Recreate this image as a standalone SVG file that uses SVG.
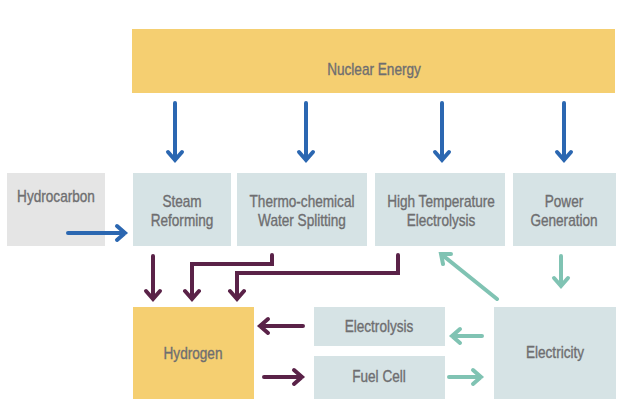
<svg xmlns="http://www.w3.org/2000/svg" width="637" height="410" viewBox="0 0 637 410">
<defs>
<style>
.lbl{font-family:"Liberation Sans",Arial,sans-serif;font-size:16px;fill:#6e6e70;stroke:#6e6e70;stroke-width:0.35;text-anchor:middle;dominant-baseline:central}
.gold{fill:#f5cf71}
.pale{fill:#d6e3e5}
.grey{fill:#e5e5e5}
.ln{fill:none;stroke-width:4;stroke-linecap:round;stroke-linejoin:miter}
.blue{stroke:#2b67b1}
.plum{stroke:#5a2248}
.teal{stroke:#80c3b3}
</style>
</defs>
<rect width="637" height="410" fill="#ffffff"/>
<g id="nuclear"><rect class="gold" x="132" y="29" width="483" height="64"/><text class="lbl" transform="translate(374 70) scale(0.85 1)">Nuclear Energy</text></g>
<g id="hydrocarbon"><rect class="grey" x="7" y="173" width="98" height="73"/><text class="lbl" transform="translate(56 197) scale(0.85 1)">Hydrocarbon</text></g>
<g id="steam"><rect class="pale" x="133" y="173" width="98" height="73"/><text class="lbl" transform="translate(182 202) scale(0.85 1)">Steam</text><text class="lbl" transform="translate(182 221) scale(0.85 1)">Reforming</text></g>
<g id="thermo"><rect class="pale" x="237" y="173" width="130" height="73"/><text class="lbl" transform="translate(302 202) scale(0.85 1)">Thermo-chemical</text><text class="lbl" transform="translate(302 221) scale(0.85 1)">Water Splitting</text></g>
<g id="hte"><rect class="pale" x="375" y="173" width="130" height="73"/><text class="lbl" transform="translate(441 202) scale(0.85 1)">High Temperature</text><text class="lbl" transform="translate(441 221) scale(0.85 1)">Electrolysis</text></g>
<g id="power"><rect class="pale" x="513" y="173" width="103" height="73"/><text class="lbl" transform="translate(564 202) scale(0.85 1)">Power</text><text class="lbl" transform="translate(564 221) scale(0.85 1)">Generation</text></g>
<g id="hydrogen"><rect class="gold" x="133" y="307" width="121" height="92"/><text class="lbl" transform="translate(193 354) scale(0.85 1)">Hydrogen</text></g>
<g id="electrolysis"><rect class="pale" x="314" y="307" width="131" height="39"/><text class="lbl" transform="translate(379 327) scale(0.85 1)">Electrolysis</text></g>
<g id="fuelcell"><rect class="pale" x="314" y="356" width="131" height="43"/><text class="lbl" transform="translate(379 377) scale(0.85 1)">Fuel Cell</text></g>
<g id="electricity"><rect class="pale" x="494" y="307" width="122" height="92"/><text class="lbl" transform="translate(555 353) scale(0.85 1)">Electricity</text></g>
<g id="connectors">
<g class="ln blue">
<path d="M175 103V160M168 152l7 8l7-8"/>
<path d="M306 103V160M299 152l7 8l7-8"/>
<path d="M442 103V160M435 152l7 8l7-8"/>
<path d="M564 103V160M557 152l7 8l7-8"/>
<path d="M68 233H125M117 226l8 7l-8 7"/>
</g>
<g class="ln plum">
<path d="M153 256V299M146 291l7 8l7-8"/>
<path d="M272 255V264H192V299M185 291l7 8l7-8"/>
<path d="M398 255V273H237V299M230 291l7 8l7-8"/>
<path d="M303 326H260M268 319l-8 7l8 7"/>
<path d="M264 377H302M294 370l8 7l-8 7"/>
</g>
<g class="ln teal">
<path d="M561 256V286M554 278l7 8l7-8"/>
<path d="M497 299L441 254M443 264l-2-10l10 0"/>
<path d="M482 336H452M460 329l-8 7l8 7"/>
<path d="M449 377H481M473 370l8 7l-8 7"/>
</g>
</g>
</svg>
